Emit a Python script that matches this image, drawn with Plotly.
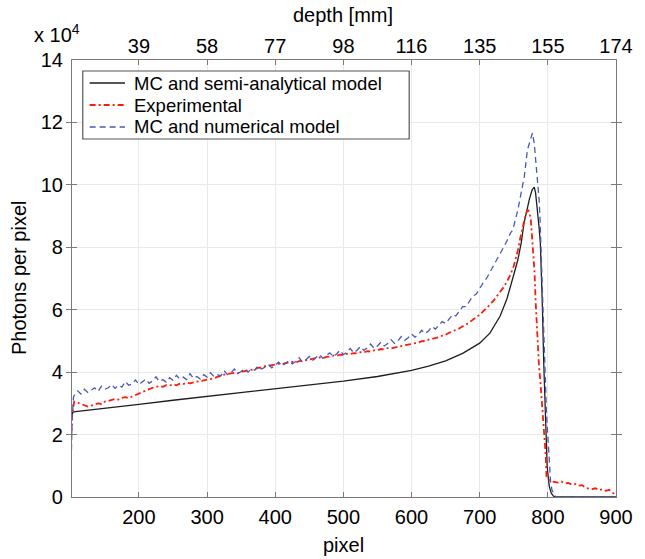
import plotly.graph_objects as go

# ---------------- data (values in units of 1e4 photons) ----------------
black_x = [101, 103, 110, 150, 200, 250, 300, 350, 400, 450, 500, 550, 600, 625, 650, 675,
           700, 715, 730, 740, 746, 751, 756, 761, 765, 769, 773, 777, 780, 782, 785, 787,
           789, 790, 792, 794, 797, 799, 802, 805, 808, 812, 900]
black_y = [2.50, 2.72, 2.74, 2.85, 2.97, 3.10, 3.22, 3.34, 3.46, 3.58, 3.71, 3.86, 4.06, 4.19,
           4.36, 4.60, 4.93, 5.25, 5.80, 6.35, 6.86, 7.20, 7.60, 8.15, 8.77, 9.20, 9.55, 9.84,
           9.93, 9.74, 9.20, 8.67, 8.13, 7.10, 6.10, 4.28, 2.04, 0.97, 0.35, 0.12, 0.03, 0.0, 0.0]

exp_head_x = [101, 102]
exp_head_y = [2.00, 2.60]
exp_mid_x = list(range(105, 750, 5))
exp_mid_y = [3.06, 3.02, 2.98, 2.94, 2.90, 2.93, 2.97, 3.00, 2.98, 3.06,
             3.08, 3.10, 3.14, 3.12, 3.18, 3.20, 3.17, 3.22, 3.26, 3.30,
             3.36, 3.41, 3.46, 3.50, 3.52, 3.56, 3.53, 3.58, 3.57, 3.61,
             3.58, 3.63, 3.62, 3.66, 3.64, 3.68, 3.70, 3.69, 3.74, 3.76,
             3.78, 3.80, 3.85, 3.87, 3.92, 3.94, 3.95, 3.98, 3.96, 4.01,
             4.03, 4.05, 4.09, 4.10, 4.14, 4.15, 4.19, 4.20, 4.22, 4.24,
             4.27, 4.25, 4.29, 4.30, 4.33, 4.31, 4.35, 4.36, 4.38, 4.40,
             4.42, 4.43, 4.47, 4.45, 4.49, 4.50, 4.53, 4.52, 4.56, 4.55,
             4.59, 4.58, 4.61, 4.60, 4.64, 4.63, 4.67, 4.66, 4.70, 4.70,
             4.74, 4.73, 4.77, 4.76, 4.79, 4.81, 4.83, 4.86, 4.88, 4.90,
             4.94, 4.95, 4.99, 5.00, 5.04, 5.06, 5.10, 5.12, 5.17, 5.20,
             5.26, 5.30, 5.36, 5.40, 5.47, 5.52, 5.60, 5.67, 5.76, 5.84,
             5.94, 6.04, 6.16, 6.28, 6.42, 6.56, 6.72, 6.90, 7.12]
exp_peak_x = [750, 756, 760, 763, 766, 768, 771, 773, 775, 777, 779, 780.5, 782, 783.5, 785,
              787, 789.6, 792, 794, 796, 797, 798, 800, 803, 806, 810, 815, 820, 825, 830,
              835, 840, 845, 850, 855, 860, 865, 870, 875, 880, 885, 890, 895, 898, 900]
exp_peak_y = [7.40, 7.90, 8.35, 8.66, 8.95, 9.09, 9.20, 9.10, 8.88, 8.24, 7.70, 7.20, 6.30, 5.60,
              4.82, 4.20, 3.54, 2.68, 2.15, 1.60, 1.29, 0.65, 0.58, 0.52, 0.50, 0.48, 0.46, 0.50,
              0.43, 0.45, 0.40, 0.42, 0.36, 0.38, 0.30, 0.27, 0.25, 0.28, 0.22, 0.25, 0.20, 0.23,
              0.14, 0.08, 0.05]

num_head_x = [101, 102, 104]
num_head_y = [1.50, 2.50, 3.20]
num_mid_x = list(range(105, 750, 5))
num_mid_y = [3.25, 3.40, 3.30, 3.45, 3.35, 3.42, 3.50, 3.38, 3.55, 3.45,
             3.50, 3.60, 3.48, 3.58, 3.52, 3.70, 3.58, 3.62, 3.75, 3.60,
             3.68, 3.78, 3.64, 3.72, 3.85, 3.70, 3.76, 3.68, 3.82, 3.74,
             3.90, 3.78, 3.84, 3.76, 3.95, 3.80, 3.86, 3.78, 3.92, 3.84,
             3.98, 3.86, 3.92, 3.88, 4.05, 3.92, 3.98, 4.10, 3.96, 4.02,
             4.12, 4.00, 4.10, 4.06, 4.20, 4.10, 4.16, 4.24, 4.14, 4.22,
             4.32, 4.20, 4.28, 4.36, 4.26, 4.34, 4.46, 4.32, 4.40, 4.50,
             4.38, 4.46, 4.56, 4.44, 4.52, 4.62, 4.50, 4.58, 4.70, 4.56,
             4.64, 4.76, 4.62, 4.70, 4.82, 4.70, 4.78, 4.90, 4.76, 4.84,
             4.96, 4.84, 4.92, 5.04, 4.92, 5.00, 5.14, 5.02, 5.10, 5.22,
             5.12, 5.20, 5.34, 5.24, 5.32, 5.46, 5.38, 5.50, 5.62, 5.56,
             5.70, 5.84, 5.80, 5.96, 6.10, 6.10, 6.28, 6.44, 6.50, 6.70,
             6.86, 7.00, 7.20, 7.40, 7.60, 7.80, 8.00, 8.20, 8.45]
num_peak_x = [748.6, 756, 761, 765.5, 770, 772.7, 775, 777.4, 780, 782.4, 784.8, 787.2, 788.6,
              789.6, 791, 792.5, 793.8, 796, 798, 800, 801.6, 804, 806, 810, 813, 850, 900]
num_peak_y = [8.56, 9.20, 9.73, 10.27, 11.12, 11.34, 11.50, 11.66, 11.34, 10.80, 10.27, 9.52,
              8.88, 8.13, 7.00, 6.20, 5.35, 4.00, 2.68, 1.80, 1.08, 0.50, 0.22, 0.05, 0.0, 0.0, 0.0]

pixel_ticks = [200, 300, 400, 500, 600, 700, 800, 900]
depth_labels = ["39", "58", "77", "98", "116", "135", "155", "174"]
y_ticks = [0, 2, 4, 6, 8, 10, 12, 14]
legend_names = ["MC and semi-analytical model", "Experimental", "MC and numerical model"]

assert len(exp_mid_x) == len(exp_mid_y)
assert len(num_mid_x) == len(num_mid_y)
assert len(exp_peak_x) == len(exp_peak_y)
assert len(num_peak_x) == len(num_peak_y)

exp_x = exp_head_x + exp_mid_x + exp_peak_x
exp_y = exp_head_y + exp_mid_y + exp_peak_y
num_x = num_head_x + num_mid_x + num_peak_x
num_y = num_head_y + num_mid_y + num_peak_y

# ---------------- styling ----------------
FONT = "Liberation Sans, Arial, Helvetica, sans-serif"
C_BLACK = "#1e1e1e"
C_RED = "#ff1a0a"
C_BLUE = "#4a58b4"
AX = "#7a7a7a"
GRID = "#e9e9e9"

fig = go.Figure()
fig.add_trace(go.Scatter(x=black_x, y=black_y, mode="lines", name=legend_names[0],
                         line=dict(color=C_BLACK, width=1.3), showlegend=False))
fig.add_trace(go.Scatter(x=exp_x, y=exp_y, mode="lines", name=legend_names[1],
                         line=dict(color=C_RED, width=1.8, dash="6px,3px,2px,3px"),
                         showlegend=False))
fig.add_trace(go.Scatter(x=num_x, y=num_y, mode="lines", name=legend_names[2],
                         line=dict(color=C_BLUE, width=1.3, dash="6px,4px"),
                         showlegend=False))

XR = [101.8, 900]
fig.update_layout(
    width=645, height=559,
    margin=dict(l=72, r=18, t=60, b=62),
    paper_bgcolor="white", plot_bgcolor="white",
    font=dict(family=FONT, size=20, color="black"),
    xaxis=dict(range=XR, tickvals=pixel_ticks, ticks="inside", ticklen=5,
               tickcolor=AX, showline=True, linecolor=AX, linewidth=1.2,
               showgrid=True, gridcolor=GRID, gridwidth=1, zeroline=False,
               tickfont=dict(size=20), ticklabelstandoff=2),
    xaxis2=dict(range=XR, overlaying="x", side="top", anchor="y",
                tickvals=pixel_ticks, ticktext=depth_labels, ticks="inside",
                ticklen=5, tickcolor=AX, showline=True, linecolor=AX, linewidth=1.2,
                showgrid=False, zeroline=False, tickfont=dict(size=20),
                ticklabelstandoff=-2),
    yaxis=dict(range=[0, 14], tickvals=y_ticks, ticks="inside", ticklen=5,
               tickcolor=AX, showline=True, linecolor=AX, linewidth=1.2,
               mirror="allticks", showgrid=True, gridcolor=GRID, gridwidth=1,
               zeroline=False, tickfont=dict(size=20), ticklabelstandoff=4),
    showlegend=False,
)

# invisible anchor trace so the top axis is realised
fig.add_trace(go.Scatter(x=[XR[0], XR[1]], y=[None, None], xaxis="x2", yaxis="y",
                         mode="lines", showlegend=False, hoverinfo="skip"))

# ---- axis titles & exponent ----
def px(x):
    return (x - 72) / 555.0

def py(y):
    return (497 - y) / 437.0

P = dict(xref="paper", yref="paper", showarrow=False)
ann = [
    dict(text="x 10<sup>4</sup>", x=px(31), y=py(33), xanchor="left", yanchor="middle",
         font=dict(size=20), **P),
    dict(text="depth [mm]", x=px(348), y=py(15), xanchor="center", yanchor="middle",
         font=dict(size=20), **P),
    dict(text="pixel", x=px(349), y=py(545), xanchor="center", yanchor="middle",
         font=dict(size=20), **P),
    dict(text="Photons per pixel", x=px(18), y=py(278), xanchor="center", yanchor="middle",
         textangle=-90, font=dict(size=20), **P),
]

# ---- manual legend (tight MATLAB-style rows) ----
shapes = [dict(type="rect", xref="paper", yref="paper", x0=px(83), x1=px(416),
               y0=py(139), y1=py(71), line=dict(color="#555555", width=1.2),
               fillcolor="white", layer="above")]
rows = [83.0, 105.0, 127.0]
styles = [(C_BLACK, "solid", 1.3), (C_RED, "6px,3px,2px,3px", 1.8), (C_BLUE, "6px,4px", 1.3)]
for name, ry, (c, d, w) in zip(legend_names, rows, styles):
    shapes.append(dict(type="line", xref="paper", yref="paper", x0=px(90), x1=px(126),
                       y0=py(ry), y1=py(ry), line=dict(color=c, dash=d, width=w),
                       layer="above"))
    ann.append(dict(text=name, x=px(133), y=py(ry), xanchor="left", yanchor="middle",
                    font=dict(size=18.5), **P))

fig.update_layout(annotations=ann, shapes=shapes)
fig.write_html("out.html")
